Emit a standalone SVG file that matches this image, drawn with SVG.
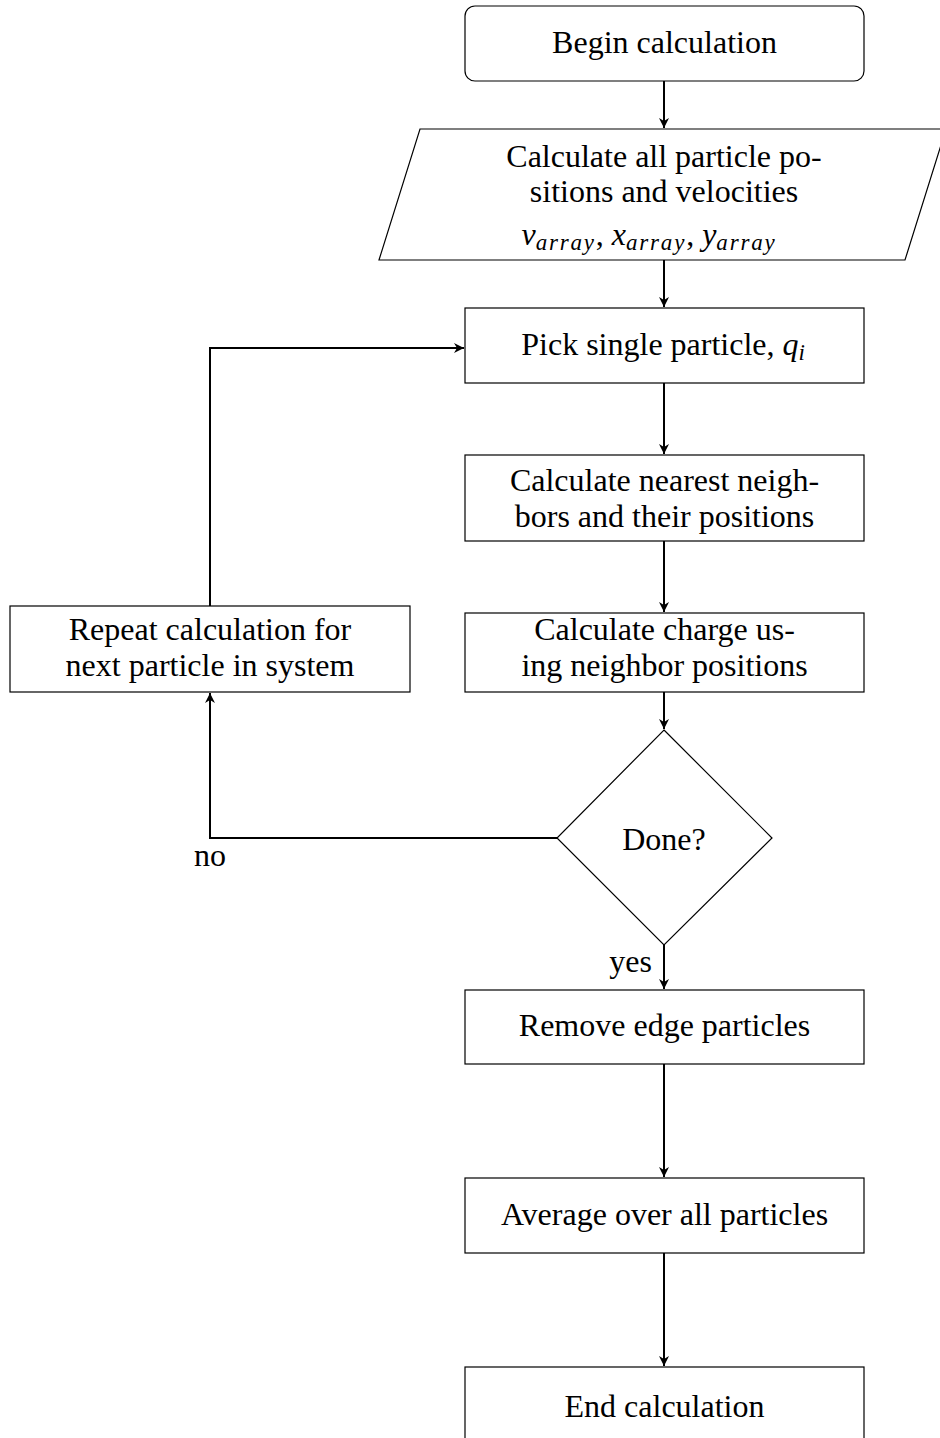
<svg xmlns="http://www.w3.org/2000/svg" width="940" height="1438" viewBox="0 0 940 1438">
<style>
.n{fill:#fff;stroke:#000;stroke-width:1.2}
.t{font-family:"Liberation Serif","Times New Roman",serif;font-size:32px;fill:#000;text-anchor:middle}
.m{font-style:italic}
.s{font-size:23px;font-style:italic;letter-spacing:1.8px}
.c{fill:none;stroke:#000;stroke-width:2}
</style>
<defs>
<marker id="a" markerWidth="12" markerHeight="12" refX="10" refY="6" orient="auto" markerUnits="userSpaceOnUse">
<path d="M0,1 L10,6 L0,11 L3,6 Z" fill="#000"/>
</marker>
</defs>
<rect width="940" height="1438" fill="#fff"/>
<g id="connectors">
<path class="c" d="M664,81 V128" marker-end="url(#a)"/>
<path class="c" d="M664,260 V307" marker-end="url(#a)"/>
<path class="c" d="M664,383 V454" marker-end="url(#a)"/>
<path class="c" d="M664,541 V612" marker-end="url(#a)"/>
<path class="c" d="M664,692 V729" marker-end="url(#a)"/>
<path class="c" d="M557,838 H210 V693" marker-end="url(#a)"/>
<path class="c" d="M210,606 V348 H464" marker-end="url(#a)"/>
<path class="c" d="M664,945 V989" marker-end="url(#a)"/>
<path class="c" d="M664,1064 V1177" marker-end="url(#a)"/>
<path class="c" d="M664,1253 V1366" marker-end="url(#a)"/>
</g>
<g id="begin">
<rect class="n" x="465" y="6" width="399" height="75" rx="10"/>
<text class="t" x="664.5" y="53">Begin calculation</text>
</g>
<g id="input">
<polygon class="n" points="420,129 946,129 905,260 379,260"/>
<text class="t" x="664" y="167">Calculate all particle po-</text>
<text class="t" x="664" y="202">sitions and velocities</text>
<text class="t" x="649" y="245"><tspan class="m">v</tspan><tspan class="s" dy="5">array</tspan><tspan dy="-5">,  </tspan><tspan class="m">x</tspan><tspan class="s" dy="5">array</tspan><tspan dy="-5">,  </tspan><tspan class="m">y</tspan><tspan class="s" dy="5">array</tspan></text>
</g>
<g id="pick">
<rect class="n" x="465" y="308" width="399" height="75"/>
<text class="t" x="664" y="355">Pick single particle, <tspan class="m">q</tspan><tspan class="s" dy="5">i</tspan></text>
</g>
<g id="nearest">
<rect class="n" x="465" y="455" width="399" height="86"/>
<text class="t" x="664.5" y="491">Calculate nearest neigh-</text>
<text class="t" x="664.5" y="527">bors and their positions</text>
</g>
<g id="charge">
<rect class="n" x="465" y="613" width="399" height="79"/>
<text class="t" x="664.5" y="640">Calculate charge us-</text>
<text class="t" x="664.5" y="676">ing neighbor positions</text>
</g>
<g id="repeat">
<rect class="n" x="10" y="606" width="400" height="86"/>
<text class="t" x="210" y="640">Repeat calculation for</text>
<text class="t" x="210" y="676">next particle in system</text>
</g>
<g id="done">
<polygon class="n" points="664,730 772,838 664,945 557,838"/>
<text class="t" x="664" y="850">Done?</text>
</g>
<g id="labels">
<text class="t" x="210" y="866">no</text>
<text class="t" x="652" y="972" style="text-anchor:end">yes</text>
</g>
<g id="remove">
<rect class="n" x="465" y="990" width="399" height="74"/>
<text class="t" x="664.5" y="1036">Remove edge particles</text>
</g>
<g id="average">
<rect class="n" x="465" y="1178" width="399" height="75"/>
<text class="t" x="664.5" y="1225">Average over all particles</text>
</g>
<g id="end">
<rect class="n" x="465" y="1367" width="399" height="80"/>
<text class="t" x="664.5" y="1417">End calculation</text>
</g>
</svg>
